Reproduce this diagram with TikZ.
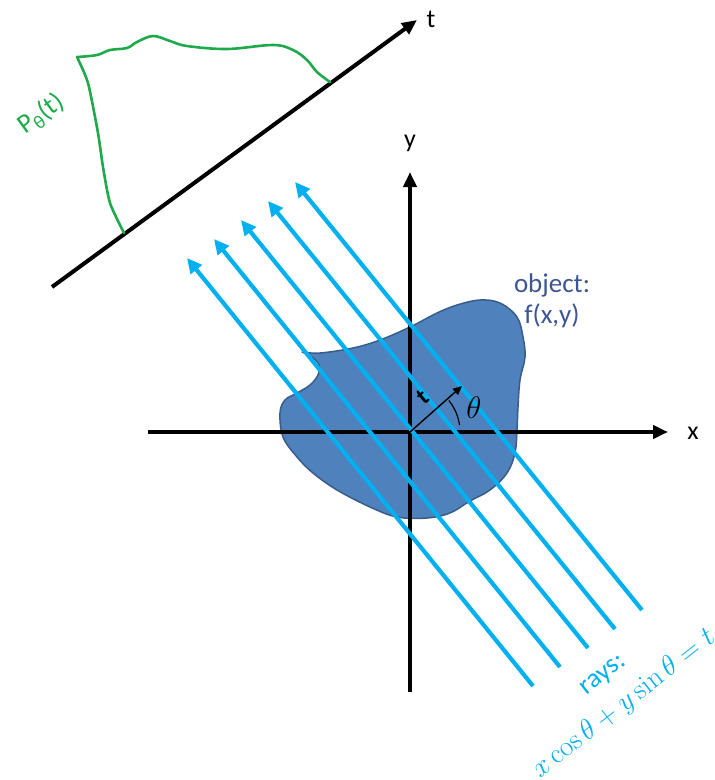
\documentclass[tikz,border=0pt]{standalone}
\usepackage[no-math]{fontspec}
\setmainfont{Carlito}
\usetikzlibrary{arrows.meta}
\definecolor{raycol}{HTML}{00B0F0}
\definecolor{blobfill}{HTML}{4F81BD}
\definecolor{blobline}{HTML}{385D8A}
\definecolor{projcol}{RGB}{30,170,75}
\definecolor{objtext}{RGB}{60,85,150}
\tikzset{
  axisline/.style={line width=4pt,-{Triangle[length=15pt,width=13pt]}},
  rayline/.style={raycol,line width=4.2pt,-{Triangle[length=15pt,width=14pt]}},
  projline/.style={projcol,line width=2.6pt,line join=round,line cap=round},
  lbl/.style={font=\fontsize{26}{30}\selectfont,inner sep=0pt},
}
\begin{document}
\begin{tikzpicture}[x=1pt,y=-1pt]
\useasboundingbox (0,0) rectangle (715,780);
% object blob
\filldraw[fill=blobfill,draw=blobline,line width=1.5pt,line join=round]
  plot[smooth,tension=0.6] coordinates {(302,352) (320,353) (353,348) (380,340) (410,327) (437,313) (457,305) (480,300) (500,303) (517,317) (523,337) (525,357) (520,380) (518,407) (517,430) (515,453) (507,473) (490,490) (470,501) (450,513) (427,518) (397,517) (370,507) (337,490) (313,473) (297,457) (283,437) (280,413) (285,400) (297,393) (310,385) (318,375) (319,365) (312,357) (302,352)} -- cycle;
% coordinates
\coordinate (O) at (410,432);
\coordinate (xs) at (148,432);
\coordinate (xe) at (668,432);
\coordinate (ys) at (410,692);
\coordinate (ye) at (410,172);
\coordinate (ts) at (52,287);
\coordinate (te) at (417,20);
\coordinate (tt) at (462,386);
% axes
\draw[axisline] (xs) -- (xe);
\draw[axisline] (ys) -- (ye);
\draw[axisline] (ts) -- (te);
\node[lbl] (xl) at (693,433) {x};
\node[lbl] (yl) at (410,143) {y};
\node[lbl] (tl) at (431,19) {t};
% projection
\draw[projline] plot[smooth,tension=0.4] coordinates {(124,233) (110,203) (103,167) (98,133) (88,83) (77,57)}
  -- plot[smooth,tension=0.6] coordinates {(77,57) (97,55) (110,50) (127,48) (137,42) (153,36) (170,41) (187,46) (227,49) (273,45) (293,50) (307,60) (317,72) (330,82)};
\node[lbl,projcol,rotate=36,font=\fontsize{27}{30}\selectfont] (pl) at (41,114) {P\textsubscript{θ}(t)};
% rays
\foreach \i/\sx/\sy/\ex/\ey in {1/642/610/295/182, 2/615/629/268/201, 3/588/648/241/220, 4/560/667/214/239, 5/533/686/187/258}{
  \coordinate (rs\i) at (\sx,\sy);
  \coordinate (re\i) at (\ex,\ey);
  \draw[rayline] (rs\i) -- (re\i);
}
% small t arrow and theta
\draw[line width=1.4pt,-{Triangle[length=9pt,width=8pt]}] (O) -- (tt);
\draw[line width=1.2pt,domain=8:39,samples=25] plot ({410+50*cos(\x)},{432-50*sin(\x)});
\node[lbl,rotate=40,font=\fontsize{24}{26}\selectfont\bfseries] (tsmall) at (423,397) {t};
\node[lbl,font=\fontsize{24.88}{28}\selectfont] (th) at (474,408) {\scalebox{1.25}{$\theta$}};
% labels
\node[lbl,objtext,align=center,font=\fontsize{27}{31}\selectfont] (obj) at (552,301) {object:\\f(x,y)};
\node[lbl,raycol,rotate=38,font=\fontsize{27}{30}\selectfont] (rays) at (604,676) {rays:};
\node[lbl,raycol,rotate=38,font=\fontsize{24.88}{28}\selectfont] (eq) at (624,704) {\scalebox{1.15}{$x\cos\theta+y\sin\theta=t$}};
\end{tikzpicture}
\end{document}
